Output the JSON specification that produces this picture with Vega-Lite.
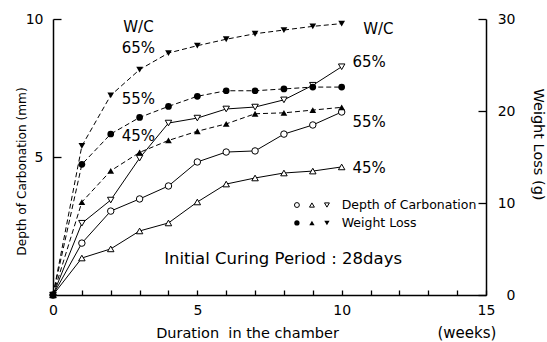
{
  "$schema": "https://vega.github.io/schema/vega-lite/v6.json",
  "width": 433,
  "height": 276,
  "autosize": "none",
  "padding": {"left": 53, "top": 19, "right": 61, "bottom": 47},
  "config": {
    "font": "DejaVu Sans",
    "view": {"stroke": null},
    "axis": {"grid": false, "ticks": true, "labelOverlap": false, "domainColor": "black", "domainWidth": 1.5, "tickColor": "black", "tickWidth": 1.3, "tickOpacity": 1, "labelColor": "black", "titleColor": "black", "labelFontSize": 14, "titleFontSize": 13, "titleFontWeight": "normal", "labelFont": "DejaVu Sans", "titleFont": "DejaVu Sans"}
  },
  "datasets": {
    "series": [
      {"week": 0, "wc": "45%", "kind": "depth", "value": 0},
      {"week": 1, "wc": "45%", "kind": "depth", "value": 1.34},
      {"week": 2, "wc": "45%", "kind": "depth", "value": 1.67},
      {"week": 3, "wc": "45%", "kind": "depth", "value": 2.32},
      {"week": 4, "wc": "45%", "kind": "depth", "value": 2.61},
      {"week": 5, "wc": "45%", "kind": "depth", "value": 3.37},
      {"week": 6, "wc": "45%", "kind": "depth", "value": 4.02},
      {"week": 7, "wc": "45%", "kind": "depth", "value": 4.24},
      {"week": 8, "wc": "45%", "kind": "depth", "value": 4.42},
      {"week": 9, "wc": "45%", "kind": "depth", "value": 4.49},
      {"week": 10, "wc": "45%", "kind": "depth", "value": 4.64},
      {"week": 0, "wc": "55%", "kind": "depth", "value": 0},
      {"week": 1, "wc": "55%", "kind": "depth", "value": 1.88},
      {"week": 2, "wc": "55%", "kind": "depth", "value": 3.04},
      {"week": 3, "wc": "55%", "kind": "depth", "value": 3.48},
      {"week": 4, "wc": "55%", "kind": "depth", "value": 3.95},
      {"week": 5, "wc": "55%", "kind": "depth", "value": 4.82},
      {"week": 6, "wc": "55%", "kind": "depth", "value": 5.18},
      {"week": 7, "wc": "55%", "kind": "depth", "value": 5.22},
      {"week": 8, "wc": "55%", "kind": "depth", "value": 5.83},
      {"week": 9, "wc": "55%", "kind": "depth", "value": 6.16},
      {"week": 10, "wc": "55%", "kind": "depth", "value": 6.63},
      {"week": 0, "wc": "65%", "kind": "depth", "value": 0},
      {"week": 1, "wc": "65%", "kind": "depth", "value": 2.6},
      {"week": 2, "wc": "65%", "kind": "depth", "value": 3.44},
      {"week": 3, "wc": "65%", "kind": "depth", "value": 4.96},
      {"week": 4, "wc": "65%", "kind": "depth", "value": 6.23},
      {"week": 5, "wc": "65%", "kind": "depth", "value": 6.41},
      {"week": 6, "wc": "65%", "kind": "depth", "value": 6.74},
      {"week": 7, "wc": "65%", "kind": "depth", "value": 6.81},
      {"week": 8, "wc": "65%", "kind": "depth", "value": 7.07},
      {"week": 9, "wc": "65%", "kind": "depth", "value": 7.6},
      {"week": 10, "wc": "65%", "kind": "depth", "value": 8.27},
      {"week": 0, "wc": "45%", "kind": "weight", "value": 0},
      {"week": 1, "wc": "45%", "kind": "weight", "value": 10.1},
      {"week": 2, "wc": "45%", "kind": "weight", "value": 13.5},
      {"week": 3, "wc": "45%", "kind": "weight", "value": 15.5},
      {"week": 4, "wc": "45%", "kind": "weight", "value": 16.8},
      {"week": 5, "wc": "45%", "kind": "weight", "value": 17.8},
      {"week": 6, "wc": "45%", "kind": "weight", "value": 18.6},
      {"week": 7, "wc": "45%", "kind": "weight", "value": 19.7},
      {"week": 8, "wc": "45%", "kind": "weight", "value": 19.8},
      {"week": 9, "wc": "45%", "kind": "weight", "value": 20.1},
      {"week": 10, "wc": "45%", "kind": "weight", "value": 20.4},
      {"week": 0, "wc": "55%", "kind": "weight", "value": 0},
      {"week": 1, "wc": "55%", "kind": "weight", "value": 14.2},
      {"week": 2, "wc": "55%", "kind": "weight", "value": 17.5},
      {"week": 3, "wc": "55%", "kind": "weight", "value": 19.3},
      {"week": 4, "wc": "55%", "kind": "weight", "value": 20.5},
      {"week": 5, "wc": "55%", "kind": "weight", "value": 21.6},
      {"week": 6, "wc": "55%", "kind": "weight", "value": 22.2},
      {"week": 7, "wc": "55%", "kind": "weight", "value": 22.2},
      {"week": 8, "wc": "55%", "kind": "weight", "value": 22.4},
      {"week": 9, "wc": "55%", "kind": "weight", "value": 22.6},
      {"week": 10, "wc": "55%", "kind": "weight", "value": 22.6},
      {"week": 0, "wc": "65%", "kind": "weight", "value": 0},
      {"week": 1, "wc": "65%", "kind": "weight", "value": 16.2},
      {"week": 2, "wc": "65%", "kind": "weight", "value": 21.7},
      {"week": 3, "wc": "65%", "kind": "weight", "value": 24.5},
      {"week": 4, "wc": "65%", "kind": "weight", "value": 26.3},
      {"week": 5, "wc": "65%", "kind": "weight", "value": 27.1},
      {"week": 6, "wc": "65%", "kind": "weight", "value": 27.8},
      {"week": 7, "wc": "65%", "kind": "weight", "value": 28.4},
      {"week": 8, "wc": "65%", "kind": "weight", "value": 28.8},
      {"week": 9, "wc": "65%", "kind": "weight", "value": 29.2},
      {"week": 10, "wc": "65%", "kind": "weight", "value": 29.5}
    ],
    "key": [
      {"week": 8.45, "value": 3.26, "wc": "55%", "kind": "depth"},
      {"week": 8.97, "value": 3.26, "wc": "45%", "kind": "depth"},
      {"week": 9.49, "value": 3.26, "wc": "65%", "kind": "depth"},
      {"week": 8.45, "value": 2.61, "wc": "55%", "kind": "weight"},
      {"week": 8.97, "value": 2.61, "wc": "45%", "kind": "weight"},
      {"week": 9.49, "value": 2.61, "wc": "65%", "kind": "weight"}
    ],
    "keytext": [
      {"week": 10.0, "value": 3.26, "label": "Depth of Carbonation"},
      {"week": 10.0, "value": 2.61, "label": "Weight Loss"}
    ],
    "notes": [
      {"week": 2.96, "value": 9.71, "label": "W/C"},
      {"week": 2.96, "value": 8.95, "label": "65%"},
      {"week": 2.96, "value": 7.1, "label": "55%"},
      {"week": 2.96, "value": 5.76, "label": "45%"},
      {"week": 11.27, "value": 9.64, "label": "W/C"},
      {"week": 10.95, "value": 8.44, "label": "65%"},
      {"week": 10.95, "value": 6.27, "label": "55%"},
      {"week": 10.95, "value": 4.6, "label": "45%"}
    ],
    "period": [
      {"week": 7.97, "value": 1.3, "label": "Initial Curing Period : 28days"}
    ],
    "unit": [
      {"week": 14.34, "value": -1.38, "label": "(weeks)"}
    ]
  },
  "encoding": {
    "x": {"field": "week", "type": "quantitative", "scale": {"domain": [0, 15], "nice": false},
          "axis": {"title": "Duration\u00a0 in the chamber", "titleFontSize": 14.5, "values": [0,1,2,3,4,5,6,7,8,9,10,11,12,13,14,15], "labelExpr": "datum.value % 5 === 0 ? datum.label : ''", "labelOverlap": false, "tickSize": -5, "labelPadding": 13, "labelFlush": false, "titleX": 194, "titleY": 38, "titleBaseline": "middle", "titleAlign": "center"}}
  },
  "layer": [
    {
      "encoding": {
        "y": {"field": "value", "type": "quantitative", "scale": {"domain": [0, 10], "nice": false},
              "axis": {"title": "Depth of Carbonation (mm)", "titleFontSize": 12.2, "orient": "left", "values": [5, 10], "tickSize": -8, "labelPadding": 18, "titleX": -32, "titleY": 152, "titleBaseline": "middle", "titleAlign": "center", "titleAngle": 270}}
      },
      "layer": [
        {
          "data": {"name": "series"},
          "transform": [{"filter": "datum.kind === 'depth'"}],
          "mark": {"type": "line", "color": "black", "strokeWidth": 1},
          "encoding": {"detail": {"field": "wc"}}
        },
        {
          "data": {"name": "series"},
          "transform": [{"filter": "datum.kind === 'depth'"}],
          "mark": {"type": "point", "filled": false, "fill": "white", "stroke": "black", "strokeWidth": 1, "size": 42, "opacity": 1},
          "encoding": {
            "shape": {"field": "wc", "type": "nominal", "scale": {"domain": ["45%", "55%", "65%"], "range": ["triangle-up", "circle", "triangle-down"]}, "legend": null}
          }
        },
        {
          "data": {"name": "key"},
          "transform": [{"filter": "datum.kind === 'depth'"}],
          "mark": {"type": "point", "filled": false, "fill": "white", "stroke": "black", "strokeWidth": 1, "size": 24, "opacity": 1},
          "encoding": {"shape": {"field": "wc", "type": "nominal", "legend": null}}
        },
        {
          "data": {"name": "key"},
          "transform": [{"filter": "datum.kind === 'weight'"}],
          "mark": {"type": "point", "filled": true, "color": "black", "size": 28, "opacity": 1},
          "encoding": {"shape": {"field": "wc", "type": "nominal", "legend": null}}
        },
        {
          "data": {"name": "keytext"},
          "mark": {"type": "text", "align": "left", "baseline": "middle", "fontSize": 12.5, "color": "black"},
          "encoding": {"text": {"field": "label"}}
        },
        {
          "data": {"name": "notes"},
          "mark": {"type": "text", "align": "center", "baseline": "middle", "fontSize": 15, "color": "black"},
          "encoding": {"text": {"field": "label"}}
        },
        {
          "data": {"name": "period"},
          "mark": {"type": "text", "align": "center", "baseline": "middle", "fontSize": 16.5, "color": "black"},
          "encoding": {"text": {"field": "label"}}
        },
        {
          "data": {"name": "unit"},
          "mark": {"type": "text", "align": "center", "baseline": "middle", "fontSize": 15, "color": "black"},
          "encoding": {"text": {"field": "label"}}
        }
      ]
    },
    {
      "encoding": {
        "y": {"field": "value", "type": "quantitative", "scale": {"domain": [0, 30], "nice": false},
              "axis": {"title": "Weight Loss (g)", "titleFontSize": 14.5, "orient": "right", "values": [0, 10, 20, 30], "tickSize": -8, "labelPadding": 37, "labelAlign": "right", "titleX": 51, "titleY": 125, "titleBaseline": "middle", "titleAlign": "center", "titleAngle": 90}}
      },
      "layer": [
        {
          "data": {"name": "series"},
          "transform": [{"filter": "datum.kind === 'weight'"}],
          "mark": {"type": "line", "color": "black", "strokeWidth": 1, "strokeDash": [5, 3]},
          "encoding": {"detail": {"field": "wc"}}
        },
        {
          "data": {"name": "series"},
          "transform": [{"filter": "datum.kind === 'weight'"}],
          "mark": {"type": "point", "filled": true, "color": "black", "size": 45, "opacity": 1},
          "encoding": {"shape": {"field": "wc", "type": "nominal", "legend": null}}
        }
      ]
    }
  ],
  "resolve": {"scale": {"y": "independent"}}
}
